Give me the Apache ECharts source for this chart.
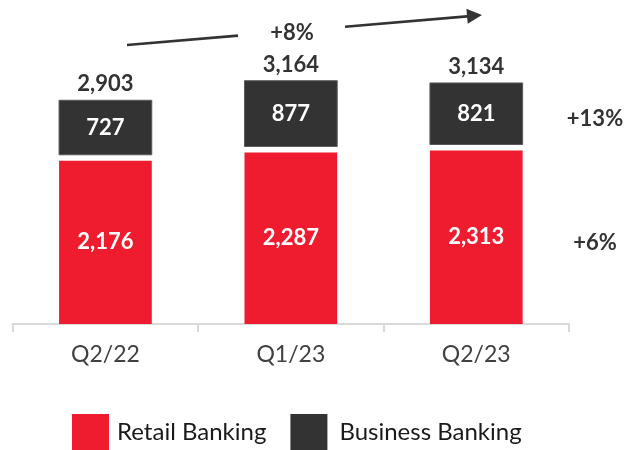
<!DOCTYPE html>
<html>
<head>
<meta charset="utf-8">
<script src="https://cdn.jsdelivr.net/npm/echarts@6/dist/echarts.min.js"></script>
<style>
  html, body { margin: 0; padding: 0; background: #ffffff; }
  #chart { width: 627px; height: 450px; }
</style>
</head>
<body>
<div id="chart"></div>
<script>
// Revenue by segment, quarterly
const categories = ['Q2/22', 'Q1/23', 'Q2/23'];
const retailBanking = [2176, 2287, 2313];
const businessBanking = [727, 877, 821];
const seriesNames = ['Retail Banking', 'Business Banking'];
const growthTotal = '+8%';
const growthBusiness = '+13%';
const growthRetail = '+6%';

const RED = '#ee1c2e';
const DARK = '#333333';
const FONT = 'Lato';
const SEGMENT_GAP = 6; // white gap between the two stacked segments, px

const fmt = v => v.toLocaleString('en-US');

const chart = echarts.init(document.getElementById('chart'), null, { renderer: 'canvas' });

// Upper segment: sits on top of the retail value, lifted by a small gap
function renderBusiness(params, api) {
  const i = api.value(0);
  const base = api.value(1);
  const v = api.value(2);
  const lo = api.coord([i, base]);
  const hi = api.coord([i, base + v]);
  const w = api.size([1, 0])[0] * 0.5;
  const h = lo[1] - hi[1];
  const y0 = hi[1] - SEGMENT_GAP;
  return {
    type: 'group',
    children: [
      {
        type: 'rect',
        shape: { x: lo[0] - w / 2, y: y0, width: w, height: h },
        style: { fill: DARK, stroke: '#5a5a5a', lineWidth: 1 }
      },
      {
        type: 'text',
        x: lo[0], y: y0 + h / 2,
        style: { text: fmt(v), fill: '#ffffff', font: 'bold 22px ' + FONT, align: 'center', verticalAlign: 'middle' }
      },
      {
        type: 'text',
        x: lo[0], y: y0 - 5,
        style: { text: fmt(base + v), fill: DARK, font: 'bold 22px ' + FONT, align: 'center', verticalAlign: 'bottom' }
      }
    ]
  };
}

const annotationText = (text, x, y) => ({
  type: 'text', x: x, y: y,
  style: { text: text, fill: DARK, font: 'bold 22px ' + FONT, align: 'center', verticalAlign: 'middle' }
});

chart.setOption({
  animation: false,
  backgroundColor: '#ffffff',
  grid: { left: 12.7, right: 58, top: 24, bottom: 126 },
  xAxis: {
    type: 'category',
    data: categories,
    axisLine: { lineStyle: { color: '#d9d9d9', width: 2 } },
    axisTick: { show: true, length: 8, lineStyle: { color: '#d9d9d9', width: 2 } },
    axisLabel: { fontSize: 23, color: '#404040', fontFamily: FONT, margin: 19 }
  },
  yAxis: { type: 'value', min: 0, max: 4000, show: false },
  legend: {
    left: 67, top: 409,
    icon: 'rect',
    itemWidth: 37, itemHeight: 37, itemGap: 24,
    textStyle: { fontSize: 24, color: '#1a1a1a', fontFamily: FONT },
    data: [
      { name: seriesNames[0], textStyle: { padding: [0, 0, 0, 3] } },
      { name: seriesNames[1], textStyle: { padding: [0, 0, 0, 7] } }
    ]
  },
  series: [
    {
      name: seriesNames[0],
      type: 'bar',
      barWidth: '50%',
      data: retailBanking,
      itemStyle: { color: RED },
      label: {
        show: true, position: 'inside',
        formatter: p => fmt(p.value),
        color: '#ffffff', fontSize: 22, fontWeight: 'bold', fontFamily: FONT
      }
    },
    {
      name: seriesNames[1],
      type: 'custom',
      itemStyle: { color: DARK },
      encode: { x: 0, y: [1, 2] },
      data: categories.map((c, i) => [i, retailBanking[i], businessBanking[i]]),
      renderItem: renderBusiness
    }
  ],
  graphic: [
    { type: 'line', shape: { x1: 127, y1: 45, x2: 238, y2: 35.6 }, style: { stroke: DARK, lineWidth: 2.6 } },
    { type: 'line', shape: { x1: 345, y1: 26.7, x2: 470, y2: 16.1 }, style: { stroke: DARK, lineWidth: 2.6 } },
    { type: 'polygon', shape: { points: [[482, 15], [466.4, 8.8], [467.7, 23.7]] }, style: { fill: DARK } },
    annotationText(growthTotal, 292, 33),
    annotationText(growthBusiness, 595, 118.5),
    annotationText(growthRetail, 595, 243)
  ]
});
</script>
</body>
</html>
